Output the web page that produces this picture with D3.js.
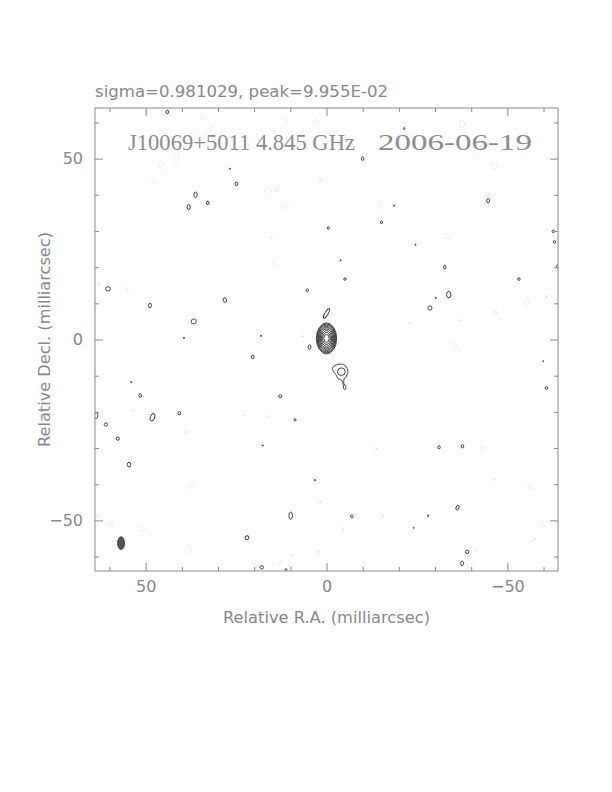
<!DOCTYPE html>
<html lang="en">
<head>
    <meta charset="UTF-8" />
    <title>J10069+5011 contour map</title>
    <script src="https://d3js.org/d3.v7.min.js"></script>
    <style>
        body { margin: 0; background: #fff; }
        text { font-family: "DejaVu Sans", sans-serif; fill: #888; }
    </style>
</head>
<body>
    <script>
        // Map extent (milliarcsec) and ticks
        var extent = 64;
        var majorTicks = [50, 0, -50];
        var minorTicks = [60, 40, 30, 20, 10, -10, -20, -30, -40, -60];

        var topLabel = "sigma=0.981029, peak=9.955E-02";
        var sourceLabel = "J10069+5011 4.845 GHz";
        var dateLabel = "2006-06-19";
        var xLabel = "Relative R.A. (milliarcsec)";
        var yLabel = "Relative Decl. (milliarcsec)";

        // Core: nested contour half-widths (mas)
        var coreCentre = [0, 0.3];
        var coreRx = [2.8, 2.6, 2.4, 2.2, 1.95, 1.7, 1.4, 1.1, 0.75];
        var coreRy = [4.3, 4.0, 3.7, 3.35, 3.0, 2.6, 2.15, 1.65, 1.1];

        // Positive contour islands: [x, y, rx, ry, tilt deg]
        var posBlobs = [
            [44, 62.9, 0.4, 0.5, 0], [24.9, 43, 0.4, 0.5, 0], [36.2, 40, 0.45, 0.75, 0],
            [38.1, 36.6, 0.45, 0.7, 0], [32.8, 37.8, 0.35, 0.4, 30], [26.7, 47.2, 0.15, 0.2, 0],
            [60.4, 14, 0.65, 0.6, 0], [48.8, 9.4, 0.4, 0.65, 0], [28.1, 10.9, 0.45, 0.65, -20],
            [36.7, 5.0, 0.7, 0.7, 0], [5.3, 13.6, 0.35, 0.4, 0], [39.4, 0.4, 0.15, 0.2, 0],
            [18.1, 1, 0.15, 0.2, 0], [0, 7.2, 0.45, 1.5, 30],
            [-21.5, 58.3, 0.2, 0.3, 0], [-10, 50, 0.35, 0.5, 0], [-44.7, 38.4, 0.4, 0.6, 0],
            [-18.7, 37, 0.15, 0.2, 0], [-15.2, 32.4, 0.3, 0.35, 0], [-0.5, 30.8, 0.3, 0.35, 0],
            [-24.6, 26.2, 0.15, 0.2, 0], [-3.9, 21.9, 0.15, 0.2, 0], [-32.7, 20, 0.35, 0.5, 0],
            [-5.1, 16.7, 0.35, 0.3, 0], [-53.2, 16.7, 0.35, 0.35, 0], [-62.7, 29.9, 0.35, 0.35, 0],
            [-63, 27, 0.3, 0.4, 0], [-64, 20.2, 0.35, 0.5, 0], [-33.8, 12.4, 0.6, 0.9, 0],
            [-28.6, 8.7, 0.55, 0.6, 0], [-30.2, 11.5, 0.15, 0.25, 0],
            [4.7, -2.1, 0.4, 0.6, 0], [20.4, -4.8, 0.4, 0.5, 0], [54, -11.8, 0.15, 0.2, 0],
            [51.5, -15.5, 0.35, 0.5, 0], [12.8, -15.7, 0.45, 0.4, 0], [63.7, -21, 0.5, 0.8, 0],
            [61, -23.5, 0.45, 0.45, 0], [48.1, -21.5, 0.6, 1.1, 20], [40.7, -20.4, 0.4, 0.45, 0],
            [8.7, -22.2, 0.3, 0.3, 0], [57.7, -27.4, 0.45, 0.45, 0], [17.6, -29.3, 0.2, 0.2, 0],
            [54.6, -34.6, 0.5, 0.65, 0], [3.2, -38.9, 0.2, 0.2, 0], [9.9, -48.7, 0.5, 1.0, 0],
            [22, -54.8, 0.55, 0.5, -30], [17.9, -63, 0.5, 0.45, 0], [11.2, -63.6, 0.25, 0.25, 0],
            [-59.9, -6, 0.12, 0.2, 0], [-60.8, -13.4, 0.4, 0.35, 0], [-31.1, -29.8, 0.35, 0.45, 0],
            [-37.6, -29.5, 0.35, 0.45, 0], [-36.2, -46.5, 0.4, 0.65, 20], [-7, -48.9, 0.35, 0.4, 0],
            [-28.1, -48.7, 0.15, 0.3, 0], [-24.1, -52.1, 0.12, 0.15, 0], [-38.9, -58.7, 0.45, 0.5, 0],
            [-37.5, -61.9, 0.4, 0.65, 0]
        ];

        // Knot south-west of the core: ring plus outer outline
        var knotRing = [-4.1, -8.9, 1.05];
        var knotOutline = [
            [-1.66, -7.83], [-2.76, -7.0], [-4.15, -6.82], [-5.35, -7.37], [-5.9, -8.76],
            [-5.53, -10.14], [-4.88, -10.88], [-4.79, -12.17], [-5.35, -13.09], [-5.16, -13.82],
            [-4.79, -13.64], [-4.6, -12.44], [-4.15, -11.24], [-3.23, -10.88], [-2.58, -9.68],
            [-1.84, -8.76]
        ];

        // Negative contours (dotted): [x, y, r]
        var negBlobs = [
            [34.3, 61.4, 0.6], [32.2, 58.7, 0.7], [11.2, 60.8, 0.6], [3.2, 60.1, 0.7],
            [45.6, 48.1, 0.8], [41.5, 50, 0.9], [47.9, 43.5, 0.4], [16.1, 41, 0.8],
            [13.8, 41.6, 0.6], [11.2, 36.8, 0.7], [15.3, 28.1, 0.3], [14.7, 20.9, 0.3],
            [55.2, 13.8, 0.4], [63, 15.2, 0.4], [1.8, 43.9, 0.5], [6.6, 1, 0.4],
            [-37.5, 59.5, 0.9], [-41, 51.6, 0.7], [-46.5, 47.9, 0.8], [-14.7, 37, 0.6],
            [-33.6, 28.5, 0.7], [-23, 4.7, 0.4], [-36.9, 5.3, 0.4], [-46.5, 7.5, 0.5],
            [-55.3, 10.5, 0.7], [-60.4, 11.7, 0.5],
            [53.4, -19.4, 0.4], [39.1, -25.6, 0.5], [37.3, -40.6, 0.7], [23, -20.7, 0.4],
            [16.5, -21.2, 0.4], [2, -44.9, 0.5], [63.3, -48.8, 0.4], [59.4, -51.2, 0.7],
            [50.8, -52.4, 0.7], [37.9, -58.2, 0.6], [12.7, -61.6, 0.4], [2.2, -58.7, 0.3],
            [9.6, -59.7, 0.3],
            [-35.5, -1.8, 0.6], [-13.4, -30.2, 0.5], [-42.7, -30, 0.5], [-46.4, -38.7, 0.3],
            [-56.2, -41, 0.6], [-59.9, -51.4, 0.6], [-57.3, -55.1, 0.5], [-15.4, -49, 0.5],
            [-4.4, -52.3, 0.4], [-41.3, -58.2, 0.3]
        ];

        // Restoring beam: [x, y, rx, ry]
        var beam = [56.8, -56.3, 0.95, 1.75];

        var w = 612;
        var h = 792;
        var plotLeft = 95, plotRight = 558, plotTop = 108, plotBottom = 571;

        var svg = d3.select("body")
            .append("svg")
            .attr("width", w)
            .attr("height", h);

        // RA increases to the left
        var xScale = d3.scaleLinear().domain([extent, -extent]).range([plotLeft, plotRight]);
        var yScale = d3.scaleLinear().domain([extent, -extent]).range([plotTop, plotBottom]);
        var px = Math.abs(xScale(1) - xScale(0));

        svg.append("clipPath").attr("id", "plotClip")
            .append("rect")
            .attr("x", plotLeft).attr("y", plotTop)
            .attr("width", plotRight - plotLeft).attr("height", plotBottom - plotTop);

        var map = svg.append("g").attr("clip-path", "url(#plotClip)");

        // negative contours - faint dotted
        map.selectAll("ellipse.neg")
            .data(negBlobs)
            .enter()
            .append("ellipse")
            .attr("class", "neg")
            .attr("cx", function(d) { return xScale(d[0]); })
            .attr("cy", function(d) { return yScale(d[1]); })
            .attr("rx", function(d) { return d[2] * px * 0.8; })
            .attr("ry", function(d) { return d[2] * px * 1.1; })
            .attr("fill", "none")
            .attr("stroke", "#b4b4b4")
            .attr("stroke-width", 0.7)
            .attr("stroke-dasharray", "0.8,2.2");

        // positive islands
        map.selectAll("ellipse.pos")
            .data(posBlobs)
            .enter()
            .append("ellipse")
            .attr("class", "pos")
            .attr("transform", function(d) {
                return "translate(" + xScale(d[0]) + "," + yScale(d[1]) + ") rotate(" + d[4] + ")";
            })
            .attr("rx", function(d) { return d[2] * px; })
            .attr("ry", function(d) { return d[3] * px; })
            .attr("fill", "none")
            .attr("stroke", "#333")
            .attr("stroke-width", 0.9);

        // core rings
        map.selectAll("ellipse.core")
            .data(coreRx)
            .enter()
            .append("ellipse")
            .attr("class", "core")
            .attr("cx", xScale(coreCentre[0]))
            .attr("cy", yScale(coreCentre[1]))
            .attr("rx", function(d) { return d * px; })
            .attr("ry", function(d, i) { return coreRy[i] * px; })
            .attr("fill", "none")
            .attr("stroke", "#2a2a2a")
            .attr("stroke-width", 0.9);

        // knot
        map.append("circle")
            .attr("cx", xScale(knotRing[0]))
            .attr("cy", yScale(knotRing[1]))
            .attr("r", knotRing[2] * px)
            .attr("fill", "none")
            .attr("stroke", "#333")
            .attr("stroke-width", 0.9);

        var knotLine = d3.line()
            .x(function(d) { return xScale(d[0]); })
            .y(function(d) { return yScale(d[1]); })
            .curve(d3.curveCardinalClosed);

        map.append("path")
            .datum(knotOutline)
            .attr("d", knotLine)
            .attr("fill", "none")
            .attr("stroke", "#333")
            .attr("stroke-width", 0.9);

        // beam
        map.append("ellipse")
            .attr("cx", xScale(beam[0]))
            .attr("cy", yScale(beam[1]))
            .attr("rx", beam[2] * px)
            .attr("ry", beam[3] * px)
            .attr("fill", "#555")
            .attr("stroke", "#333")
            .attr("stroke-width", 0.9);

        // frame
        svg.append("rect")
            .attr("x", plotLeft).attr("y", plotTop)
            .attr("width", plotRight - plotLeft).attr("height", plotBottom - plotTop)
            .attr("fill", "none")
            .attr("stroke", "#8a8a8a")
            .attr("stroke-width", 1);

        // inward ticks on all four sides
        function tickAxes(values, size, labelled) {
            var fmt = labelled ? d3.format("d") : "";
            var b = d3.axisBottom(xScale).tickValues(values).tickSize(-size).tickPadding(10).tickFormat(fmt);
            var t = d3.axisTop(xScale).tickValues(values).tickSize(-size).tickFormat("");
            var l = d3.axisLeft(yScale).tickValues(values).tickSize(-size).tickPadding(12).tickFormat(fmt);
            var r = d3.axisRight(yScale).tickValues(values).tickSize(-size).tickFormat("");
            svg.append("g").attr("transform", "translate(0," + plotBottom + ")").call(b);
            svg.append("g").attr("transform", "translate(0," + plotTop + ")").call(t);
            svg.append("g").attr("transform", "translate(" + plotLeft + ",0)").call(l);
            svg.append("g").attr("transform", "translate(" + plotRight + ",0)").call(r);
        }
        tickAxes(minorTicks, 4, false);
        tickAxes(majorTicks, 8, true);

        svg.selectAll(".domain").remove();
        svg.selectAll(".tick line").attr("stroke", "#8a8a8a");
        svg.selectAll(".tick text")
            .attr("font-family", "DejaVu Sans")
            .attr("font-size", 16)
            .attr("fill", "#888");

        // texts
        svg.append("text")
            .attr("x", plotLeft).attr("y", 96.5)
            .attr("font-size", 16)
            .attr("textLength", 293)
            .attr("lengthAdjust", "spacingAndGlyphs")
            .text(topLabel);

        svg.append("text")
            .attr("x", 128).attr("y", 150)
            .style("font-family", "'Liberation Serif', 'DejaVu Serif', serif")
            .style("fill", "#8c8c8c")
            .attr("font-size", 23)
            .attr("textLength", 227)
            .attr("lengthAdjust", "spacingAndGlyphs")
            .text(sourceLabel);

        svg.append("text")
            .attr("x", 378).attr("y", 150)
            .style("font-family", "'Liberation Serif', 'DejaVu Serif', serif")
            .style("fill", "#8c8c8c")
            .attr("font-size", 23)
            .attr("textLength", 154)
            .attr("lengthAdjust", "spacingAndGlyphs")
            .text(dateLabel);

        svg.append("text")
            .attr("x", (plotLeft + plotRight) / 2).attr("y", 622.5)
            .attr("text-anchor", "middle")
            .attr("font-size", 16)
            .attr("textLength", 207)
            .attr("lengthAdjust", "spacingAndGlyphs")
            .text(xLabel);

        svg.append("text")
            .attr("transform", "translate(50," + (plotTop + plotBottom) / 2 + ") rotate(-90)")
            .attr("text-anchor", "middle")
            .attr("font-size", 16)
            .attr("textLength", 215)
            .attr("lengthAdjust", "spacingAndGlyphs")
            .text(yLabel);
    </script>
</body>
</html>
